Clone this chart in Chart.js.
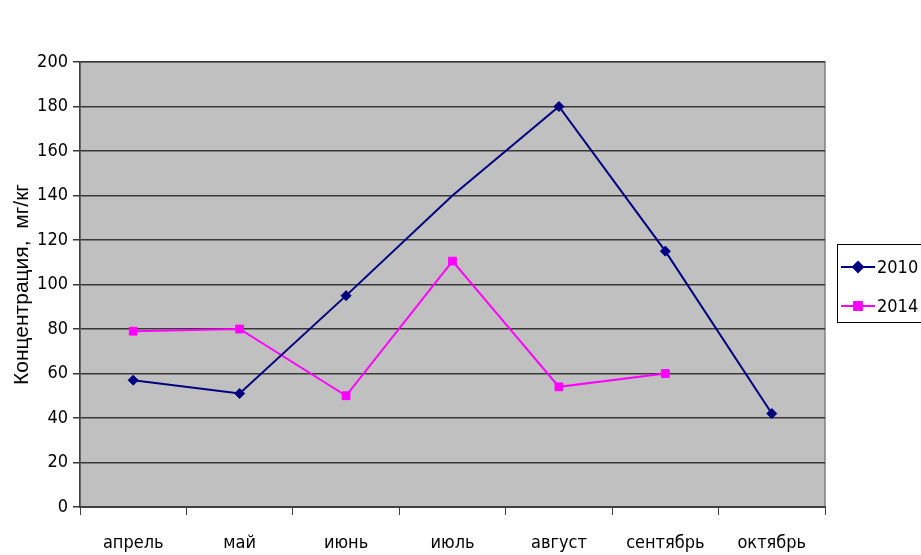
<!DOCTYPE html>
<html>
<head>
<meta charset="utf-8">
<script src="https://cdn.jsdelivr.net/npm/chart.js@4"></script>
<style>
  html, body { margin: 0; padding: 0; background: #fff; }
  #wrap { width: 921px; height: 555px; }
</style>
</head>
<body>
<div id="wrap"><canvas id="chart"></canvas></div>
<script>
const months = ['апрель', 'май', 'июнь', 'июль', 'август', 'сентябрь', 'октябрь'];
const values2010 = [57, 51, 95, 140, 180, 115, 42];
const values2014 = [79, 80, 50, 110.5, 54, 60, null];
const seriesNames = ['2010', '2014'];
const yMin = 0;
const yMax = 200;
const yStep = 20;
const yTitle = 'Концентрация,  мг/кг';

const narrow = '"Liberation Sans Narrow", "DejaVu Sans Condensed", "Arial Narrow", sans-serif';
const regular = '"Liberation Sans", Arial, sans-serif';

// grey plot area with thin border
const plotBackground = {
  id: 'plotBackground',
  beforeDraw(chart) {
    const { ctx, chartArea: a } = chart;
    ctx.save();
    ctx.fillStyle = '#c0c0c0';
    ctx.fillRect(a.left, a.top, a.right - a.left, a.bottom - a.top);
    ctx.strokeStyle = '#808080';
    ctx.lineWidth = 1.5;
    ctx.strokeRect(a.left, a.top, a.right - a.left, a.bottom - a.top);
    ctx.restore();
  }
};

// excel-style legend: box, line with marker, label
const boxLegend = {
  id: 'boxLegend',
  afterDraw(chart) {
    const ctx = chart.ctx;
    const x = 837.5, y = 244.5, w = 90, h = 78;
    ctx.save();
    ctx.strokeStyle = '#000';
    ctx.lineWidth = 1;
    ctx.strokeRect(x, y, w, h);
    chart.data.datasets.forEach((ds, i) => {
      const cy = 267 + i * 39;
      ctx.strokeStyle = ds.borderColor;
      ctx.lineWidth = 2;
      ctx.beginPath();
      ctx.moveTo(841, cy);
      ctx.lineTo(875, cy);
      ctx.stroke();
      Chart.helpers.drawPoint(ctx, {
        pointStyle: ds.pointStyle,
        radius: ds.legendRadius,
        borderWidth: 1
      }, 858, cy);
      ctx.fillStyle = ds.borderColor;
      ctx.fill();
      ctx.fillStyle = '#000';
      ctx.font = '18px ' + narrow;
      ctx.textBaseline = 'middle';
      ctx.textAlign = 'left';
      ctx.fillText(ds.label, 877, cy + 1);
    });
    ctx.restore();
  }
};

const ctx = document.getElementById('chart').getContext('2d');
new Chart(ctx, {
  type: 'line',
  data: {
    labels: months,
    datasets: [{
      label: seriesNames[0],
      data: values2010,
      borderColor: '#000080',
      backgroundColor: '#000080',
      borderWidth: 2,
      pointStyle: 'rectRot',
      legendRadius: 5,
      pointRadius: c => (c.dataIndex === 3 ? 0 : 5),
      pointBorderWidth: 1,
      tension: 0
    }, {
      label: seriesNames[1],
      data: values2014,
      borderColor: '#ff00ff',
      backgroundColor: '#ff00ff',
      borderWidth: 2,
      pointStyle: 'rect',
      legendRadius: 5.5,
      pointRadius: 5.5,
      pointBorderWidth: 1,
      tension: 0
    }]
  },
  options: {
    responsive: true,
    maintainAspectRatio: false,
    animation: false,
    layout: { padding: { left: 0, top: 62, right: 96, bottom: 0 } },
    scales: {
      x: {
        offset: true,
        afterFit: s => { s.height = 48; },
        grid: {
          offset: true,
          drawOnChartArea: false,
          drawTicks: true,
          tickLength: 8,
          color: '#404040',
          lineWidth: 1
        },
        border: { color: '#404040', width: 2 },
        ticks: {
          color: '#000',
          padding: 18,
          maxRotation: 0,
          font: { family: narrow, size: 18 }
        }
      },
      y: {
        min: yMin,
        max: yMax,
        afterFit: s => { s.width = 80; },
        grid: {
          color: '#383838',
          lineWidth: 1.5,
          tickLength: 7
        },
        border: { color: '#404040', width: 1.5 },
        ticks: {
          stepSize: yStep,
          color: '#000',
          padding: 5,
          font: { family: narrow, size: 18 }
        },
        title: {
          display: true,
          text: yTitle,
          color: '#000',
          padding: { top: 10, bottom: 0 },
          font: { family: regular, size: 21 }
        }
      }
    },
    plugins: {
      legend: { display: false },
      tooltip: { enabled: false }
    }
  },
  plugins: [plotBackground, boxLegend]
});
</script>
</body>
</html>
